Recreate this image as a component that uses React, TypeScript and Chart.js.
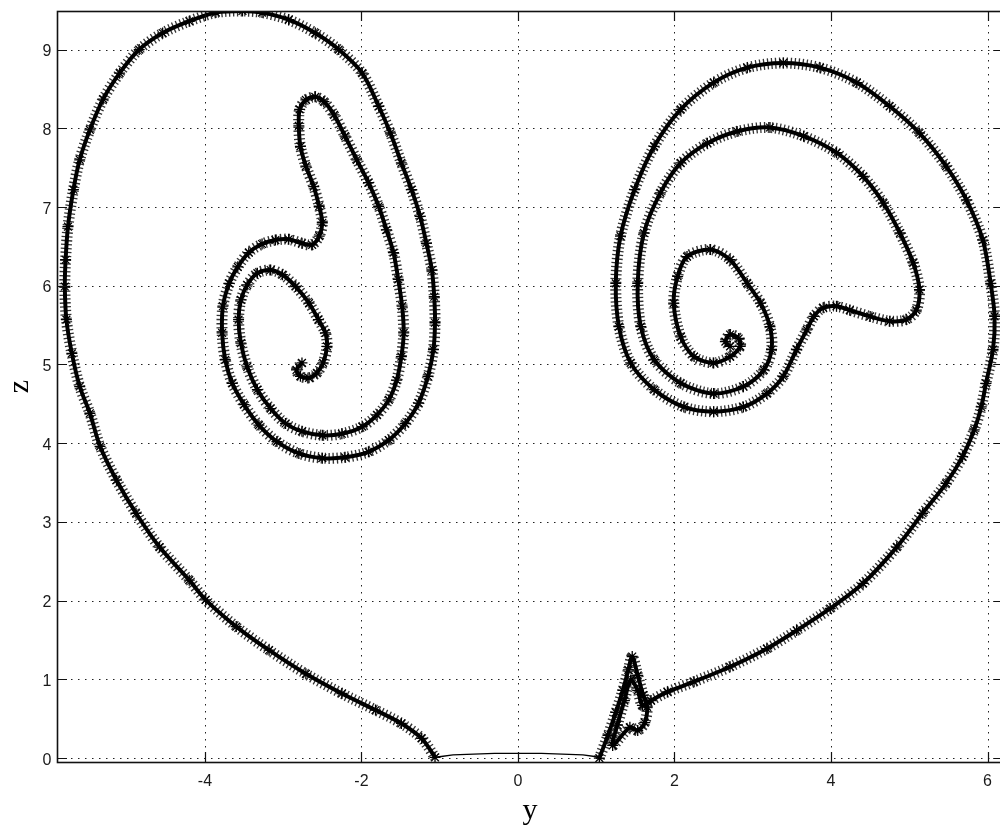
import { useEffect, useRef } from "react";
import { Chart, registerables } from "chart.js";

Chart.register(...registerables);

// Trajectory projected on the (y, z) plane: left lobe, spiralling out and down to z = 0
const leftLobeY = [
  -2.76, -2.83, -2.78, -2.67, -2.57, -2.49, -2.44, -2.46, -2.55, -2.67,
  -2.84, -3.01, -3.16, -3.33, -3.46, -3.54, -3.57, -3.54, -3.46, -3.33,
  -3.16, -2.97, -2.76, -2.5, -2.25, -1.99, -1.8, -1.65, -1.55, -1.49,
  -1.46, -1.48, -1.53, -1.59, -1.68, -1.78, -1.91, -2.06, -2.21, -2.35,
  -2.48, -2.59, -2.71, -2.79, -2.8, -2.78, -2.71, -2.61, -2.54, -2.5,
  -2.54, -2.63, -2.76, -2.93, -3.1, -3.27, -3.44, -3.58, -3.69, -3.77,
  -3.78, -3.74, -3.65, -3.5, -3.31, -3.08, -2.8, -2.5, -2.21, -1.91,
  -1.65, -1.44, -1.27, -1.15, -1.08, -1.06, -1.07, -1.1, -1.17, -1.25,
  -1.36, -1.49, -1.63, -1.78, -1.99, -2.29, -2.59, -2.93, -3.27, -3.52,
  -3.86, -4.2, -4.54, -4.84, -5.09, -5.3, -5.47, -5.6, -5.68, -5.75,
  -5.78, -5.79, -5.77, -5.7, -5.6, -5.47, -5.34, -5.13, -4.88, -4.58,
  -4.2, -3.99, -3.6, -3.18, -2.71, -2.25, -1.82, -1.49, -1.23, -1.06,
];
const leftLobeZ = [
  5.02, 4.93, 4.85, 4.83, 4.89, 5.02, 5.23, 5.4, 5.57, 5.78,
  5.99, 6.14, 6.2, 6.16, 6.01, 5.82, 5.57, 5.27, 4.97, 4.68,
  4.44, 4.25, 4.15, 4.1, 4.12, 4.21, 4.36, 4.55, 4.8, 5.1,
  5.4, 5.74, 6.08, 6.42, 6.71, 7.01, 7.31, 7.6, 7.9, 8.17,
  8.34, 8.4, 8.36, 8.24, 8.03, 7.77, 7.52, 7.26, 7.01, 6.8,
  6.63, 6.52, 6.54, 6.59, 6.58, 6.53, 6.42, 6.24, 6.03, 5.74,
  5.4, 5.06, 4.76, 4.49, 4.23, 4.02, 3.87, 3.81, 3.82, 3.89,
  4.04, 4.25, 4.51, 4.85, 5.19, 5.53, 5.86, 6.2, 6.54, 6.88,
  7.22, 7.56, 7.94, 8.28, 8.7, 9.0, 9.21, 9.38, 9.47, 9.49,
  9.47, 9.36, 9.21, 9.0, 8.7, 8.37, 7.98, 7.6, 7.22, 6.75,
  6.33, 5.99, 5.57, 5.14, 4.72, 4.38, 3.96, 3.53, 3.11, 2.68,
  2.26, 2.01, 1.67, 1.37, 1.07, 0.82, 0.61, 0.44, 0.25, 0.01,
];

// Fast passage along z ≈ 0 between the two lobes
const bridgeY = [-1.06, -0.98, -0.83, -0.3, 0.3, 0.83, 0.98, 1.04];
const bridgeZ = [0.01, 0.02, 0.04, 0.06, 0.06, 0.04, 0.02, 0.0];

// Right lobe: spike near y ≈ 1.4, climb on the right, then spiral inward
const rightLobeY = [
  1.04, 1.15, 1.25, 1.34, 1.41, 1.46, 1.53, 1.6, 1.65, 1.62,
  1.53, 1.43, 1.21, 1.27, 1.36, 1.44, 1.53, 1.59, 1.7, 1.91,
  2.25, 2.71, 3.18, 3.56, 3.99, 4.41, 4.84, 5.17, 5.47, 5.68,
  5.83, 5.92, 5.98, 6.07, 6.09, 6.04, 5.94, 5.73, 5.47, 5.13,
  4.75, 4.33, 3.86, 3.39, 2.93, 2.5, 2.08, 1.74, 1.49, 1.31,
  1.25, 1.29, 1.44, 1.74, 2.12, 2.5, 2.88, 3.18, 3.39, 3.56,
  3.69, 3.78, 3.9, 4.07, 4.24, 4.5, 4.75, 4.96, 5.09, 5.13,
  5.05, 4.88, 4.67, 4.41, 4.07, 3.65, 3.22, 2.8, 2.42, 2.08,
  1.82, 1.61, 1.53, 1.57, 1.74, 2.08, 2.5, 2.88, 3.14, 3.24,
  3.22, 3.1, 2.93, 2.71, 2.46, 2.16, 2.04, 1.99, 2.08, 2.25,
  2.5, 2.71, 2.84, 2.82, 2.71, 2.65, 2.71,
];
const rightLobeZ = [
  0.0, 0.29, 0.58, 0.86, 1.12, 1.29, 1.05, 0.8, 0.65, 0.45,
  0.35, 0.39, 0.16, 0.42, 0.73, 0.99, 0.86, 0.67, 0.73, 0.84,
  0.97, 1.16, 1.39, 1.62, 1.9, 2.22, 2.68, 3.11, 3.49, 3.83,
  4.17, 4.46, 4.76, 5.19, 5.61, 6.03, 6.58, 7.09, 7.52, 7.94,
  8.28, 8.58, 8.77, 8.83, 8.77, 8.58, 8.24, 7.77, 7.22, 6.63,
  6.03, 5.48, 5.02, 4.68, 4.46, 4.4, 4.46, 4.63, 4.85, 5.19,
  5.44, 5.61, 5.72, 5.74, 5.69, 5.61, 5.55, 5.57, 5.69, 5.95,
  6.29, 6.67, 7.05, 7.39, 7.69, 7.9, 8.01, 7.96, 7.81, 7.56,
  7.18, 6.67, 6.03, 5.48, 5.06, 4.76, 4.63, 4.72, 4.93, 5.19,
  5.48, 5.78, 6.03, 6.33, 6.46, 6.37, 6.12, 5.78, 5.35, 5.1,
  5.02, 5.1, 5.23, 5.33, 5.38, 5.29, 5.23,
];

const yTicks = [-4, -2, 0, 2, 4, 6];
const zTicks = [0, 1, 2, 3, 4, 5, 6, 7, 8, 9];
const yLimits = [-5.89, 6.2];
const zLimits = [-0.05, 9.49];
const xAxisTitle = "y";
const yAxisTitle = "z";

const toPoints = (ys: number[], zs: number[]) =>
  ys.map((v, i) => ({ x: v, y: zs[i] }));

// Stacked layers per lobe: fuzzy asterisk-like spikes, then a solid core with star markers
function lobeLayers(points: { x: number; y: number }[]) {
  return [
    {
      data: points,
      showLine: true,
      tension: 0.3,
      borderColor: "rgba(0,0,0,0.8)",
      borderWidth: 11,
      borderDash: [1.3, 2.6],
      pointRadius: 0,
      order: 3,
    },
    {
      data: points,
      showLine: true,
      tension: 0.3,
      borderColor: "#000",
      borderWidth: 4,
      pointRadius: 5.5,
      pointStyle: "star",
      pointBorderColor: "#000",
      pointBackgroundColor: "#000",
      pointBorderWidth: 1.3,
      order: 1,
    },
  ];
}

const boxAxes = {
  id: "boxAxes",
  beforeDatasetsDraw(chart: any) {
    const { ctx, chartArea: a, scales } = chart;
    ctx.save();
    ctx.strokeStyle = "#222";
    ctx.lineWidth = 1;
    ctx.setLineDash([1.5, 5.5]);
    ctx.beginPath();
    yTicks.forEach((v) => {
      const p = Math.round(scales.x.getPixelForValue(v)) + 0.5;
      ctx.moveTo(p, a.top);
      ctx.lineTo(p, a.bottom);
    });
    zTicks.forEach((v) => {
      const p = Math.round(scales.y.getPixelForValue(v)) + 0.5;
      ctx.moveTo(a.left, p);
      ctx.lineTo(a.right, p);
    });
    ctx.stroke();
    ctx.restore();
  },
  afterDatasetsDraw(chart: any) {
    const { ctx, chartArea: a, scales } = chart;
    const tick = 10;
    ctx.save();
    ctx.strokeStyle = "#111";
    ctx.lineWidth = 1.6;
    ctx.strokeRect(a.left + 0.5, a.top + 0.5, a.right - a.left, a.bottom - a.top);
    ctx.lineWidth = 1.2;
    ctx.beginPath();
    yTicks.forEach((v) => {
      const p = Math.round(scales.x.getPixelForValue(v)) + 0.5;
      ctx.moveTo(p, a.bottom);
      ctx.lineTo(p, a.bottom - tick);
      ctx.moveTo(p, a.top);
      ctx.lineTo(p, a.top + tick);
    });
    zTicks.forEach((v) => {
      const p = Math.round(scales.y.getPixelForValue(v)) + 0.5;
      ctx.moveTo(a.left, p);
      ctx.lineTo(a.left + tick, p);
      ctx.moveTo(a.right, p);
      ctx.lineTo(a.right - tick, p);
    });
    ctx.stroke();

    ctx.fillStyle = "#1a1a1a";
    ctx.font = '16px "Liberation Sans", Arial, sans-serif';
    ctx.textBaseline = "alphabetic";
    ctx.textAlign = "center";
    yTicks.forEach((v) => {
      ctx.fillText(String(v), scales.x.getPixelForValue(v), a.bottom + 23.5);
    });
    ctx.textAlign = "right";
    zTicks.forEach((v) => {
      ctx.fillText(String(v), a.left - 5.5, scales.y.getPixelForValue(v) + 6.5);
    });

    ctx.fillStyle = "#000";
    ctx.font = '30px "Liberation Serif", "Times New Roman", serif';
    ctx.textAlign = "center";
    ctx.fillText(xAxisTitle, (a.left + a.right) / 2, 818.5);
    ctx.translate(20, (a.top + a.bottom) / 2);
    ctx.rotate(-Math.PI / 2);
    ctx.textBaseline = "middle";
    ctx.fillText(yAxisTitle, 0, 0);
    ctx.restore();
  },
};

export default function App() {
  const canvasRef = useRef<HTMLCanvasElement | null>(null);

  useEffect(() => {
    const canvas = canvasRef.current;
    if (!canvas) return;
    const left = toPoints(leftLobeY, leftLobeZ);
    const right = toPoints(rightLobeY, rightLobeZ);
    const bridge = toPoints(bridgeY, bridgeZ);
    const chart = new Chart(canvas, {
      type: "scatter",
      data: {
        datasets: [
          ...lobeLayers(left),
          {
            data: bridge,
            showLine: true,
            tension: 0,
            borderColor: "#000",
            borderWidth: 1.4,
            pointRadius: 0,
            order: 2,
          },
          ...lobeLayers(right),
        ] as any,
      },
      options: {
        responsive: false,
        devicePixelRatio: 1,
        animation: false,
        layout: { padding: { left: 57, top: 11, right: 3, bottom: 63 } },
        plugins: {
          legend: { display: false },
          tooltip: { enabled: false },
        },
        scales: {
          x: { type: "linear", display: false, min: yLimits[0], max: yLimits[1] },
          y: { type: "linear", display: false, min: zLimits[0], max: zLimits[1] },
        },
      },
      plugins: [boxAxes],
    });
    return () => chart.destroy();
  }, []);

  return (
    <div
      style={{
        position: "fixed",
        left: 0,
        top: 0,
        width: 1000,
        height: 825,
        overflow: "hidden",
        background: "#fff",
      }}
    >
      <canvas ref={canvasRef} width={1010} height={825} style={{ display: "block" }} />
    </div>
  );
}
